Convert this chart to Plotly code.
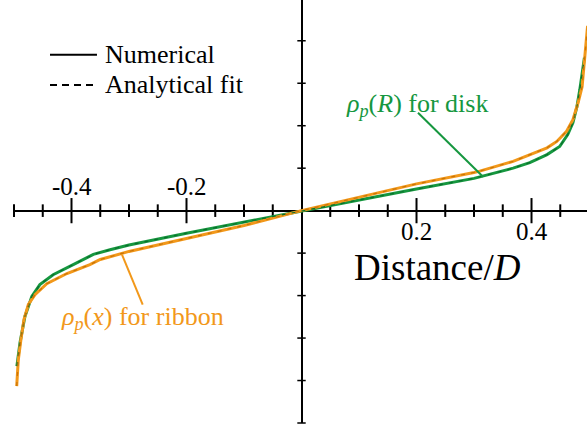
import plotly.graph_objects as go

# values (distance / D, density in axis-tick units)
ribbon_x = [-0.4953, -0.4925, -0.488, -0.4826, -0.475, -0.4635, -0.443, -0.408, -0.368, -0.35, -0.3,
            -0.2, -0.1, 0.0, 0.1, 0.2, 0.3, 0.31, 0.368, 0.397, 0.427, 0.444, 0.461, 0.472,
            0.481, 0.488, 0.491, 0.494, 0.496, 0.4975]
ribbon_y = [-4.13, -3.51, -3.04, -2.56, -2.21, -1.98, -1.72, -1.48, -1.27, -1.15, -0.96,
            -0.65, -0.35, 0.0, 0.31, 0.63, 0.90, 0.93, 1.16, 1.32, 1.48, 1.63, 1.87, 2.14,
            2.54, 2.92, 3.32, 3.72, 4.10, 4.35]

disk_x = [-0.495, -0.4896, -0.481, -0.469, -0.455, -0.432, -0.397, -0.362, -0.333, -0.3,
          -0.2, -0.1, 0.0, 0.1, 0.2, 0.3, 0.368, 0.397, 0.427, 0.449, 0.463, 0.472,
          0.479, 0.484, 0.488, 0.492]
disk_y = [-3.66, -3.11, -2.49, -2.02, -1.74, -1.51, -1.27, -1.03, -0.92, -0.81,
          -0.53, -0.27, 0.0, 0.26, 0.51, 0.76, 1.00, 1.13, 1.32, 1.51, 1.79, 2.07,
          2.45, 2.85, 3.24, 3.60]

# analytical fits overlap the numerical curves at this resolution
ribbon_fit_y = list(ribbon_y)
disk_fit_y = list(disk_y)

major_ticks = [-0.4, -0.2, 0.2, 0.4]
major_labels = ['-0.4', '-0.2', '0.2', '0.4']
minor_ticks = [-0.5, -0.45, -0.35, -0.3, -0.25, -0.15, -0.1, -0.05,
               0.05, 0.1, 0.15, 0.25, 0.3, 0.35, 0.45]
y_ticks = [-5, -4, -3, -2, -1, 1, 2, 3, 4]

green = '#16973f'
green_dark = '#0a6e2c'
orange = '#f2981a'
orange_dark = '#c97408'
serif = 'Liberation Serif, Times New Roman, serif'

fig = go.Figure()

# axis ticks crossing the zero lines
fig.add_trace(go.Scatter(
    x=minor_ticks, y=[0] * len(minor_ticks), mode='markers', cliponaxis=False,
    marker=dict(symbol='line-ns', size=9, line=dict(width=2, color='black')),
    hoverinfo='skip'))
fig.add_trace(go.Scatter(
    x=major_ticks, y=[0] * len(major_ticks), mode='markers', cliponaxis=False,
    marker=dict(symbol='line-ns', size=18, line=dict(width=2, color='black')),
    hoverinfo='skip'))
fig.add_trace(go.Scatter(
    x=[0] * len(y_ticks), y=y_ticks, mode='markers', cliponaxis=False,
    marker=dict(symbol='line-ew', size=6, line=dict(width=1.5, color='black')),
    hoverinfo='skip'))

# numerical curves
fig.add_trace(go.Scatter(x=disk_x, y=disk_y, mode='lines', name='disk',
                         line=dict(color=green, width=3)))
fig.add_trace(go.Scatter(x=ribbon_x, y=ribbon_y, mode='lines', name='ribbon',
                         line=dict(color=orange, width=3)))
# analytical fits
fig.add_trace(go.Scatter(x=disk_x, y=disk_fit_y, mode='lines', name='disk fit',
                         line=dict(color=green_dark, width=1.2, dash='4px,6px')))
fig.add_trace(go.Scatter(x=ribbon_x, y=ribbon_fit_y, mode='lines', name='ribbon fit',
                         line=dict(color=orange_dark, width=1.2, dash='4px,6px')))

# tick labels: negatives above the axis, positives below
for val, lab in zip(major_ticks, major_labels):
    fig.add_annotation(x=val, y=0, text=lab, showarrow=False,
                       yshift=24 if val < 0 else -21,
                       font=dict(family=serif, size=25, color='black'))

fig.add_annotation(x=0.236, y=-1.34, text='Distance/<i>D</i>', showarrow=False,
                   font=dict(family=serif, size=37, color='black'))

# curve labels with pointer lines
fig.add_annotation(x=0.2017, y=2.49, text='<i>ρ<sub>p</sub></i>(<i>R</i>) for disk',
                   showarrow=False, font=dict(family=serif, size=26, color=green))
fig.add_shape(type='line', x0=0.2026, y0=2.306, x1=0.3157, y1=0.8,
              line=dict(color=green, width=2))
fig.add_annotation(x=-0.2774, y=-2.52, text='<i>ρ<sub>p</sub></i>(<i>x</i>) for ribbon',
                   showarrow=False, font=dict(family=serif, size=26, color=orange))
fig.add_shape(type='line', x0=-0.2762, y0=-2.21, x1=-0.3122, y1=-1.035,
              line=dict(color=orange, width=2))

# hand-made legend
fig.add_shape(type='line', x0=-0.4374, x1=-0.3557, y0=3.67, y1=3.67,
              line=dict(color='black', width=2))
fig.add_shape(type='line', x0=-0.4374, x1=-0.3557, y0=2.96, y1=2.96,
              line=dict(color='black', width=2, dash='7px,5px'))
fig.add_annotation(x=-0.3452, y=3.67, text='Numerical', showarrow=False, xanchor='left',
                   font=dict(family=serif, size=26, color='black'))
fig.add_annotation(x=-0.3452, y=2.96, text='Analytical fit', showarrow=False, xanchor='left',
                   font=dict(family=serif, size=26, color='black'))

fig.update_xaxes(range=[-0.5, 0.4965], showgrid=False, showticklabels=False, ticks='',
                 zeroline=True, zerolinecolor='black', zerolinewidth=2, showline=False)
fig.update_yaxes(range=[-5, 4.96], showgrid=False, showticklabels=False, ticks='',
                 zeroline=True, zerolinecolor='black', zerolinewidth=2, showline=False)

fig.update_layout(
    width=587, height=430,
    margin=dict(l=14, r=0, t=0, b=7),
    plot_bgcolor='white', paper_bgcolor='white',
    showlegend=False,
)

# page default body margin would push the figure 8px off
fig.write_html("out.html", config={'displayModeBar': False},
               post_script="document.body.style.margin='0';")
